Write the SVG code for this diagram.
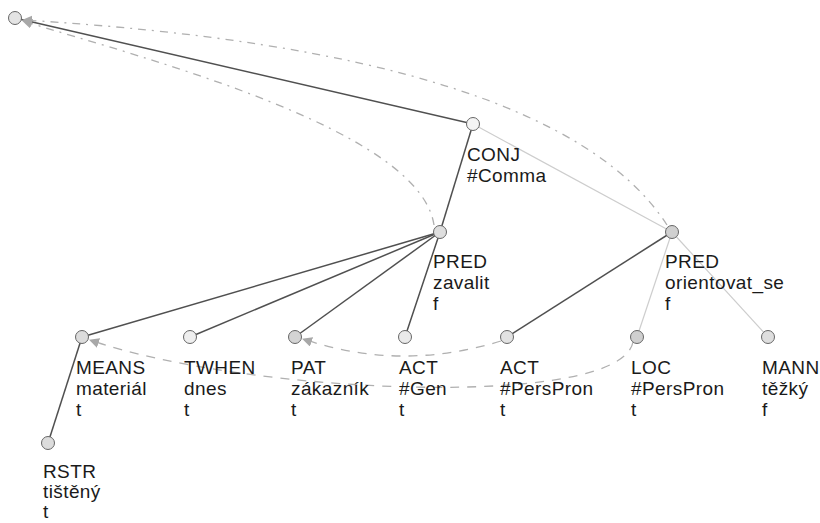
<svg xmlns="http://www.w3.org/2000/svg" width="820" height="523" viewBox="0 0 820 523">
  <style>
    .edge { stroke: #505050; stroke-width: 1.5; fill: none; }
    .edge-light { stroke: #cdcdcd; stroke-width: 1.2; fill: none; }
    .coref { stroke: #b0b0b0; stroke-width: 1.3; fill: none; stroke-dasharray: 8 6 2 6; }
    .coref-dash { stroke: #b0b0b0; stroke-width: 1.3; fill: none; stroke-dasharray: 9 8; }
    .node circle { stroke: #666666; stroke-width: 1; }
    .node text { font-family: "Liberation Sans", Arial, sans-serif; font-size: 19px; fill: #1a1a1a; letter-spacing: 0.4px; }
  </style>
  <defs>
    <marker id="arrow" viewBox="0 0 10 10" refX="9" refY="5" markerWidth="10" markerHeight="10" markerUnits="userSpaceOnUse" orient="auto">
      <path d="M0,0 L10,5 L0,10 z" fill="#a8a8a8"/>
    </marker>
  </defs>
  <rect width="820" height="523" fill="#ffffff"/>

  <g id="connectors">
    <!-- tree edges -->
    <line class="edge" x1="15" y1="18" x2="473" y2="124"/>
    <line class="edge" x1="473" y1="124" x2="440" y2="232"/>
    <line class="edge-light" x1="473" y1="124" x2="672" y2="232"/>
    <line class="edge" x1="440" y1="232" x2="82" y2="337"/>
    <line class="edge" x1="440" y1="232" x2="190" y2="337"/>
    <line class="edge" x1="440" y1="232" x2="295" y2="337"/>
    <line class="edge" x1="440" y1="232" x2="405" y2="337"/>
    <line class="edge" x1="672" y1="232" x2="507" y2="337"/>
    <line class="edge-light" x1="672" y1="232" x2="637" y2="337"/>
    <line class="edge-light" x1="672" y1="232" x2="768" y2="337"/>
    <line class="edge" x1="82" y1="337" x2="48" y2="443"/>
    <!-- coreference arrows -->
    <path class="coref" d="M667,225 Q555,52 23,20" marker-end="url(#arrow)"/>
    <path class="coref" d="M434,225 C420,130 150,60 23,21" marker-end="url(#arrow)"/>
    <path class="coref-dash" d="M501,341 Q400,372 303,339" marker-end="url(#arrow)"/>
    <path class="coref-dash" d="M633,342 C620,410 250,395 90,340" marker-end="url(#arrow)"/>
  </g>

  <g id="n-root" class="node">
    <circle cx="15" cy="18" r="6.5" fill="#e4e4e4"/>
  </g>
  <g id="n-conj" class="node">
    <circle cx="473" cy="124" r="6.5" fill="#f4f4f4"/>
    <text x="467" y="161">CONJ</text>
    <text x="467" y="182">#Comma</text>
  </g>
  <g id="n-pred-zavalit" class="node">
    <circle cx="440" cy="232" r="6.5" fill="#dedede"/>
    <text x="433" y="268">PRED</text>
    <text x="433" y="289">zavalit</text>
    <text x="433" y="310">f</text>
  </g>
  <g id="n-pred-orientovat" class="node">
    <circle cx="672" cy="232" r="6.5" fill="#d0d0d0"/>
    <text x="665" y="268">PRED</text>
    <text x="665" y="289">orientovat_se</text>
    <text x="665" y="310">f</text>
  </g>
  <g id="n-means" class="node">
    <circle cx="82" cy="337" r="6.5" fill="#dcdcdc"/>
    <text x="76" y="374">MEANS</text>
    <text x="76" y="395">materiál</text>
    <text x="76" y="416">t</text>
  </g>
  <g id="n-twhen" class="node">
    <circle cx="190" cy="337" r="6.5" fill="#efefef"/>
    <text x="184" y="374">TWHEN</text>
    <text x="184" y="395">dnes</text>
    <text x="184" y="416">t</text>
  </g>
  <g id="n-pat" class="node">
    <circle cx="295" cy="337" r="6.5" fill="#d4d4d4"/>
    <text x="291" y="374">PAT</text>
    <text x="291" y="395">zákazník</text>
    <text x="291" y="416">t</text>
  </g>
  <g id="n-act-gen" class="node">
    <circle cx="405" cy="337" r="6.5" fill="#eaeaea"/>
    <text x="399" y="374">ACT</text>
    <text x="399" y="395">#Gen</text>
    <text x="399" y="416">t</text>
  </g>
  <g id="n-act-perspron" class="node">
    <circle cx="507" cy="337" r="6.5" fill="#e2e2e2"/>
    <text x="500" y="374">ACT</text>
    <text x="500" y="395">#PersPron</text>
    <text x="500" y="416">t</text>
  </g>
  <g id="n-loc" class="node">
    <circle cx="637" cy="337" r="6.5" fill="#cfcfcf"/>
    <text x="631" y="374">LOC</text>
    <text x="631" y="395">#PersPron</text>
    <text x="631" y="416">t</text>
  </g>
  <g id="n-mann" class="node">
    <circle cx="768" cy="337" r="6.5" fill="#dedede"/>
    <text x="762" y="374">MANN</text>
    <text x="762" y="395">těžký</text>
    <text x="762" y="416">f</text>
  </g>
  <g id="n-rstr" class="node">
    <circle cx="48" cy="443" r="6.5" fill="#dcdcdc"/>
    <text x="43" y="478">RSTR</text>
    <text x="43" y="498">tištěný</text>
    <text x="43" y="518">t</text>
  </g>
</svg>
